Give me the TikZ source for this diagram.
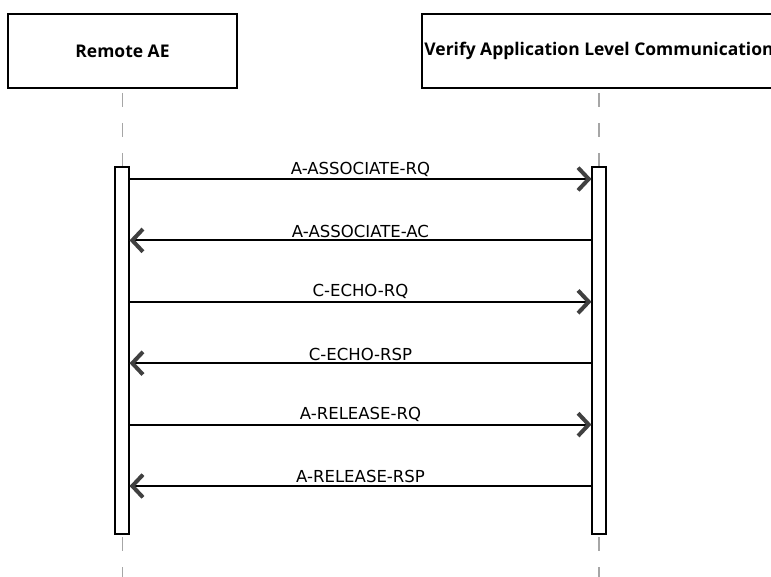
\documentclass[tikz,border=0pt]{standalone}
\usepackage{fontspec}
\setmainfont{Open Sans}
\newfontfamily\msgfont{DejaVu Sans}
\usetikzlibrary{arrows.meta}

\begin{document}
\begin{tikzpicture}
    [x=.75pt, y=-.75pt,
     >={Straight Barb[length=8pt, width=17pt, line width=3pt, color=black!75]},
     actor/.style={draw, line width=1.5pt, minimum height=55.5pt, inner xsep=1pt,
                   font=\bfseries\fontsize{13.1}{15}\selectfont},
     lifeline/.style={gray!70, line width=1.1pt, dash pattern=on 10.5pt off 12pt},
     activation/.style={draw, fill=white, line width=.8pt,
                        minimum width=10.5pt, minimum height=275.25pt, inner sep=0pt},
     msg/.style={->, line width=1.6pt},
     msglabel/.style={midway, above=-2pt, font=\msgfont\fontsize{12.4}{14}\selectfont},
    ]
    \useasboundingbox (0,0) rectangle (771,577);
    \clip (0,0) rectangle (771,577);

    % Actors
    \node[actor, minimum width=171.75pt] (ae) at (122.5,51) {Remote AE};
    \node[actor, minimum width=265.5pt] (vr) at (599,51)
        {Verify Application Level Communication};

    % Lifelines
    \foreach \sc in {ae,vr} {
        \coordinate (\sc top) at ([yshift=-3pt]\sc.south);
        \draw[lifeline] (\sc top) -- ++(0,80);
        \draw[lifeline] ([yshift=-2.3pt]\sc.south |- 0,534) -- (\sc.south |- 0,580);
    }

    % Activation bars
    \node[activation] (aebar) at (122,350.5) {};
    \node[activation] (vrbar) at (599,350.5) {};

    % Messages
    \foreach \msg / \src / \dst [count=\mi from 0] in
             {A-ASSOCIATE-RQ/ae/vr, A-ASSOCIATE-AC/vr/ae,
              C-ECHO-RQ/ae/vr, C-ECHO-RSP/vr/ae,
              A-RELEASE-RQ/ae/vr, A-RELEASE-RSP/vr/ae} {
        \pgfmathsetmacro\my{179+61.4*\mi}
        \coordinate (ae\mi) at (aebar.east |- 0,\my);
        \coordinate (vr\mi) at (vrbar.west |- 0,\my);
        \draw[msg] (\src\mi) -- (\dst\mi) node[msglabel] {\msg};
    }
\end{tikzpicture}
\end{document}
